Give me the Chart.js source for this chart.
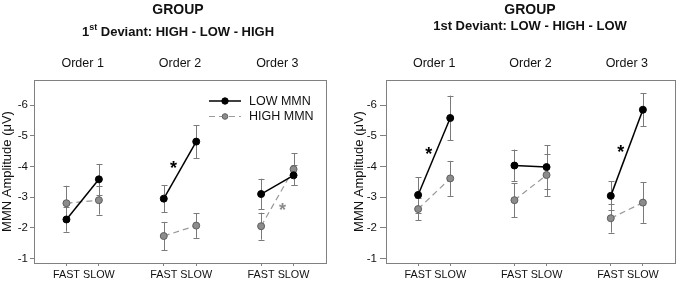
<!DOCTYPE html>
<html>
<head>
<meta charset="utf-8">
<script src="https://cdn.jsdelivr.net/npm/chart.js@4.4.1/dist/chart.umd.min.js"></script>
<style>
  html, body { margin: 0; padding: 0; background: #fff; }
  .wrap { display: flex; width: 680px; height: 284px; }
  canvas { display: block; }
</style>
</head>
<body>
<div class="wrap">
  <canvas id="left" width="340" height="284"></canvas>
  <canvas id="right" width="340" height="284"></canvas>
</div>
<script>
// shared axes
const xPos = [0, 1, 3, 4, 6, 7];
const xLabels = ["FAST", "SLOW", "FAST", "SLOW", "FAST", "SLOW"];
const orderPos = [0.5, 3.5, 6.5];
const orderLabels = ["Order 1", "Order 2", "Order 3"];
const yTicks = [-6, -5, -4, -3, -2, -1];
const seriesNames = ["LOW MMN", "HIGH MMN"];

// panel 1: HIGH - LOW - HIGH
const leftLow = [-2.27, -3.58, -2.95, -4.81, -3.10, -3.71];
const leftLowErr = [0.40, 0.50, 0.44, 0.54, 0.50, 0.33];
const leftHigh = [-2.80, -2.90, -1.73, -2.07, -2.05, -3.91];
const leftHighErr = [0.57, 0.47, 0.46, 0.40, 0.44, 0.52];
const leftStarX = [3.3, 6.66];
const leftStarY = [-4.1, -2.72];
const leftStarSeries = [0, 1];

// panel 2: LOW - HIGH - LOW
const rightLow = [-3.07, -5.58, -4.03, -3.98, -3.04, -5.85];
const rightLowErr = [0.58, 0.73, 0.52, 0.72, 0.47, 0.53];
const rightHigh = [-2.61, -3.61, -2.90, -3.72, -2.31, -2.82];
const rightHighErr = [0.37, 0.57, 0.55, 0.68, 0.47, 0.66];
const rightStarX = [0.33, 6.31];
const rightStarY = [-4.54, -4.6];
const rightStarSeries = [0, 0];

const FONT = "'Liberation Sans', Arial, sans-serif";
const TEXT = "#111";
const FRAME = "#808080";
const lowColor = "#000";
const highLine = "#9a9a9a";
const seriesColors = [lowColor, "#8c8c8c"];

Chart.defaults.font.family = FONT;
Chart.defaults.color = TEXT;

// error bars behind the points
const errorBars = {
  id: "errorBars",
  beforeDatasetsDraw(chart) {
    const { ctx, scales } = chart;
    ctx.save();
    ctx.strokeStyle = "#7a7a7a";
    ctx.lineWidth = 1;
    chart.data.datasets.forEach((ds) => {
      ds.data.forEach((p, i) => {
        const e = ds.errors[i];
        const x = Math.round(scales.x.getPixelForValue(p.x)) + 0.5;
        const y1 = scales.y.getPixelForValue(p.y - e);
        const y2 = scales.y.getPixelForValue(p.y + e);
        ctx.beginPath();
        ctx.moveTo(x, y1);
        ctx.lineTo(x, y2);
        ctx.moveTo(x - 3, Math.round(y1) + 0.5);
        ctx.lineTo(x + 3, Math.round(y1) + 0.5);
        ctx.moveTo(x - 3, Math.round(y2) + 0.5);
        ctx.lineTo(x + 3, Math.round(y2) + 0.5);
        ctx.stroke();
      });
    });
    ctx.restore();
  },
};

// significance asterisks
const stars = {
  id: "stars",
  afterDatasetsDraw(chart, args, opts) {
    const { ctx, scales } = chart;
    ctx.save();
    ctx.font = "bold 18px " + FONT;
    ctx.textAlign = "center";
    ctx.textBaseline = "alphabetic";
    opts.x.forEach((sx, i) => {
      const px = scales.x.getPixelForValue(sx);
      const py = scales.y.getPixelForValue(opts.y[i]);
      ctx.fillStyle = seriesColors[opts.series[i]];
      ctx.fillText("*", px, py + 18 * 0.57);
    });
    ctx.restore();
  },
};

// titles above each panel
const header = {
  id: "header",
  afterDraw(chart, args, opts) {
    const { ctx } = chart;
    ctx.save();
    ctx.fillStyle = TEXT;
    ctx.textBaseline = "alphabetic";
    ctx.textAlign = "center";
    ctx.font = "bold 14px " + FONT;
    ctx.fillText("GROUP", opts.cx, opts.groupBase);
    // subtitle parts, some raised as superscript
    ctx.textAlign = "left";
    const widths = opts.sub.map((part) => {
      ctx.font = "bold " + (part.sup ? 9 : 13) + "px " + FONT;
      return ctx.measureText(part.text).width;
    });
    let x = opts.cx - widths.reduce((a, b) => a + b, 0) / 2;
    opts.sub.forEach((part, i) => {
      ctx.font = "bold " + (part.sup ? 9 : 13) + "px " + FONT;
      ctx.fillText(part.text, x, opts.subBase - (part.sup ? 6 : 0));
      x += widths[i];
    });
    ctx.restore();
  },
};

// legend inside the first panel
const insideLegend = {
  id: "insideLegend",
  afterDraw(chart, args, opts) {
    if (!opts.show) return;
    const { ctx } = chart;
    ctx.save();
    chart.data.datasets.forEach((ds, i) => {
      const y = opts.y + i * opts.row;
      ctx.strokeStyle = ds.borderColor;
      ctx.lineWidth = ds.borderWidth;
      ctx.setLineDash(ds.borderDash || []);
      ctx.beginPath();
      ctx.moveTo(opts.x, y);
      ctx.lineTo(opts.x + 32, y);
      ctx.stroke();
      ctx.setLineDash([]);
      ctx.fillStyle = ds.pointBackgroundColor;
      ctx.strokeStyle = ds.pointBorderColor;
      ctx.lineWidth = 1;
      ctx.beginPath();
      ctx.arc(opts.x + 16, y, i === 0 ? 3.2 : 2.8, 0, Math.PI * 2);
      ctx.fill();
      ctx.stroke();
      ctx.fillStyle = TEXT;
      ctx.font = "12.5px " + FONT;
      ctx.textBaseline = "middle";
      ctx.fillText(ds.label, opts.x + 40, y + 0.5);
    });
    ctx.restore();
  },
};

function pairSegment(color) {
  return (s) => (s.p0DataIndex % 2 ? "rgba(0,0,0,0)" : color);
}

function makeChart(id, cfg) {
  const pts = (vals) => vals.map((v, i) => ({ x: xPos[i], y: v }));
  const yMin = -6.82;
  const yMax = -0.85;
  return new Chart(document.getElementById(id), {
    type: "line",
    data: {
      datasets: [
        {
          label: seriesNames[0],
          data: pts(cfg.low),
          errors: cfg.lowErr,
          borderColor: lowColor,
          borderWidth: 1.5,
          pointBackgroundColor: lowColor,
          pointBorderColor: lowColor,
          pointBorderWidth: 1,
          pointRadius: 3.5,
          segment: { borderColor: pairSegment(lowColor) },
        },
        {
          label: seriesNames[1],
          data: pts(cfg.high),
          errors: cfg.highErr,
          borderColor: highLine,
          borderWidth: 1.2,
          borderDash: [6, 4],
          pointBackgroundColor: "#8c8c8c",
          pointBorderColor: "#5e5e5e",
          pointBorderWidth: 1,
          pointRadius: 3.5,
          segment: { borderColor: pairSegment(highLine) },
        },
      ],
    },
    options: {
      responsive: false,
      animation: false,
      events: [],
      layout: { padding: { left: cfg.padLeft, right: cfg.padRight, top: 0, bottom: 0 } },
      plugins: {
        legend: { display: false },
        tooltip: { enabled: false },
        header: cfg.header,
        stars: { x: cfg.starX, y: cfg.starY, series: cfg.starSeries },
        insideLegend: { show: cfg.legend, x: 209, y: 101, row: 15.5 },
      },
      scales: {
        x: {
          type: "linear",
          position: "bottom",
          min: -1,
          max: 8,
          afterBuildTicks: (s) => { s.ticks = xPos.map((v) => ({ value: v })); },
          afterFit: (s) => { s.height = 21; },
          ticks: {
            callback: (v, i) => xLabels[i],
            font: { size: 10.8 },
            color: TEXT,
            padding: 3,
            maxRotation: 0,
            autoSkip: false,
          },
          grid: { drawOnChartArea: false, tickLength: 3, color: FRAME },
          border: { color: FRAME },
        },
        x2: {
          type: "linear",
          position: "top",
          min: -1,
          max: 8,
          afterBuildTicks: (s) => { s.ticks = orderPos.map((v) => ({ value: v })); },
          afterFit: (s) => { s.height = 80; },
          ticks: {
            callback: (v, i) => orderLabels[i],
            font: { size: 12.5 },
            color: TEXT,
            padding: 9,
            maxRotation: 0,
            autoSkip: false,
          },
          grid: { drawOnChartArea: false, drawTicks: false },
          border: { color: FRAME },
        },
        y: {
          type: "linear",
          position: "left",
          reverse: true,
          min: yMin,
          max: yMax,
          afterBuildTicks: (s) => { s.ticks = yTicks.map((v) => ({ value: v })); },
          afterFit: (s) => { s.width = 34; },
          ticks: {
            callback: (v) => String(v),
            font: { size: 11.5 },
            color: TEXT,
            padding: cfg.tickPad,
          },
          grid: { drawOnChartArea: false, tickLength: cfg.tickLen, color: FRAME },
          border: { color: FRAME },
          title: {
            display: true,
            text: "MMN Amplitude (\u03bcV)",
            font: { size: 13 },
            color: TEXT,
            padding: { top: 0, bottom: 0 },
          },
        },
        y2: {
          type: "linear",
          position: "right",
          reverse: true,
          min: yMin,
          max: yMax,
          afterFit: (s) => { s.width = 0; },
          ticks: { display: false },
          grid: { drawOnChartArea: false, drawTicks: false },
          border: { color: FRAME },
        },
      },
    },
    plugins: [errorBars, stars, header, insideLegend],
  });
}

makeChart("left", {
  low: leftLow, lowErr: leftLowErr, high: leftHigh, highErr: leftHighErr,
  starX: leftStarX, starY: leftStarY, starSeries: leftStarSeries,
  legend: true, padLeft: 0, padRight: 14, tickLen: 4, tickPad: 2,
  header: {
    cx: 178, groupBase: 13.5, subBase: 36,
    sub: [{ text: "1" }, { text: "st", sup: true }, { text: " Deviant: HIGH - LOW - HIGH" }],
  },
});

makeChart("right", {
  low: rightLow, lowErr: rightLowErr, high: rightHigh, highErr: rightHighErr,
  starX: rightStarX, starY: rightStarY, starSeries: rightStarSeries,
  legend: false, padLeft: 12, padRight: 3, tickLen: 6, tickPad: 3,
  header: {
    cx: 190, groupBase: 13.5, subBase: 29.5,
    sub: [{ text: "1st Deviant: LOW - HIGH - LOW" }],
  },
});
</script>
</body>
</html>
